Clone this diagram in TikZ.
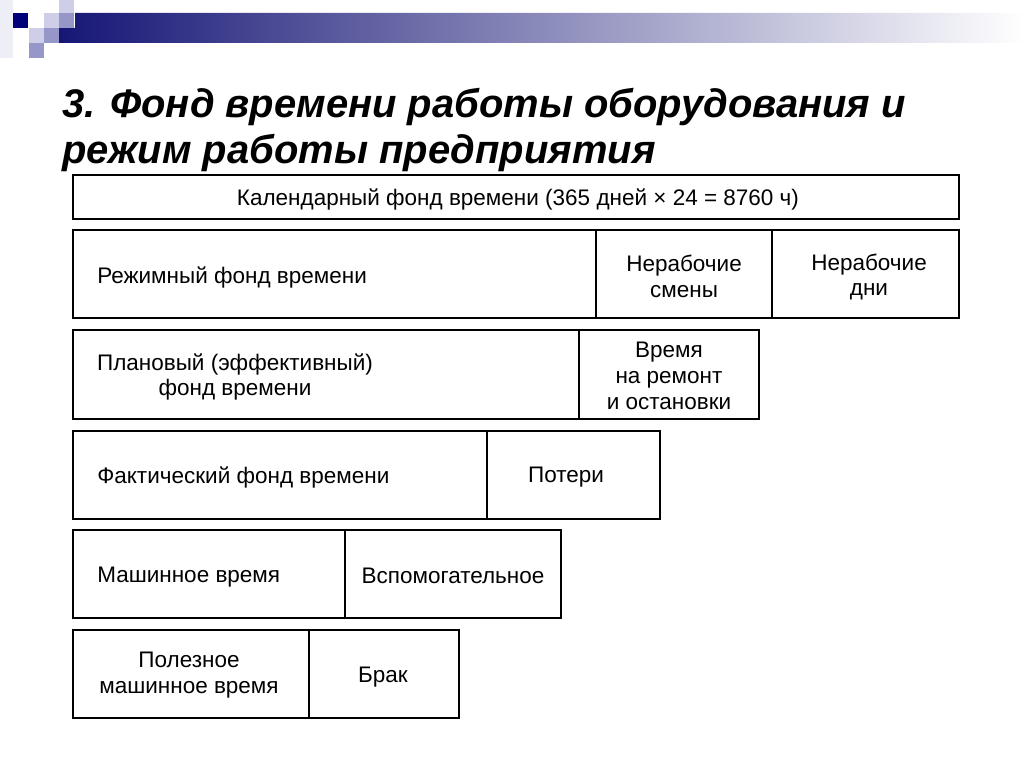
\documentclass[tikz,border=0pt]{standalone}
\usepackage{fontspec}
\setmainfont{Liberation Sans}
\usetikzlibrary{backgrounds}
\definecolor{barnavy}{RGB}{22,22,118}
\definecolor{bargrey}{RGB}{150,150,178}
\definecolor{darksq}{RGB}{0,0,120}
\definecolor{lightsq}{RGB}{206,206,232}
\definecolor{midsq}{RGB}{150,150,200}
\newcommand{\framewidth}{1.4pt}
\newcommand{\sq}{15}

\tikzset{
  frame/.style={draw=black, line width=\framewidth},
  cell/.style={font=\fontsize{16}{18.4}\selectfont, align=center, inner sep=0pt},
  heading/.style={font=\fontsize{28.4}{32}\selectfont\bfseries\itshape, anchor=base west, inner sep=0pt}
}

\begin{document}
\begin{tikzpicture}[x=0.025cm, y=-0.025cm]
\useasboundingbox (0,0) rectangle (1024,767);
%Header bar
\fill[lightsq!35] (0,0) rectangle (13,58);
\shade[left color=barnavy, middle color=bargrey, right color=white]
    (75,13) -- (1024,13) -- (1024,43) -- (59,43) -- (59,28) -- (75,28) -- cycle;
\foreach \x/\y/\c in {13/13/darksq, 44/13/lightsq, 59/0/lightsq, 59/13/midsq,
                      29/28/lightsq, 44/28/midsq, 29/43/midsq} {
    \fill[\c] (\x,\y) rectangle ++(\sq,\sq);
}
%Title
\node[heading] (head1) at (62,118) {3. Фонд времени работы оборудования и};
\node[heading] (head2) at (62,164) {режим работы предприятия};

%Rows
\foreach \t/\b/\r in {175/219/959, 230/318/959, 330/419/759, 431/519/660, 530/618/561, 630/718/459} {
    \draw[frame] (73,\t) rectangle (\r,\b);
}
\foreach \x/\t/\b in {596/230/318, 772/230/318, 579/330/419, 487/431/519, 345/530/618, 309/630/718} {
    \draw[frame] (\x,\t) -- (\x,\b);
}

%Texts
\node[cell] (kalend) at (518,199) {Календарный фонд времени (365 дней × 24 = 8760 ч)};
\node[cell, anchor=west] (rezhim) at (97,277) {Режимный фонд времени};
\node[cell] (nersmen) at (684,276) {Нерабочие\\смены};
\node[cell] (nerdni) at (869,277) {Нерабочие\\дни};
\node[cell] (plan) at (235,377) {Плановый (эффективный)\\фонд времени};
\node[cell] (remont) at (669,376) {Время\\на ремонт\\и остановки};
\node[cell, anchor=west] (fakt) at (97,477) {Фактический фонд времени};
\node[cell] (poteri) at (566,477) {Потери};
\node[cell, anchor=west] (mash) at (97,577) {Машинное время};
\node[cell] (vspom) at (453,576) {Вспомогательное};
\node[cell] (polez) at (189,675) {Полезное\\машинное время};
\node[cell] (brak) at (383,677) {Брак};
\end{tikzpicture}
\end{document}
